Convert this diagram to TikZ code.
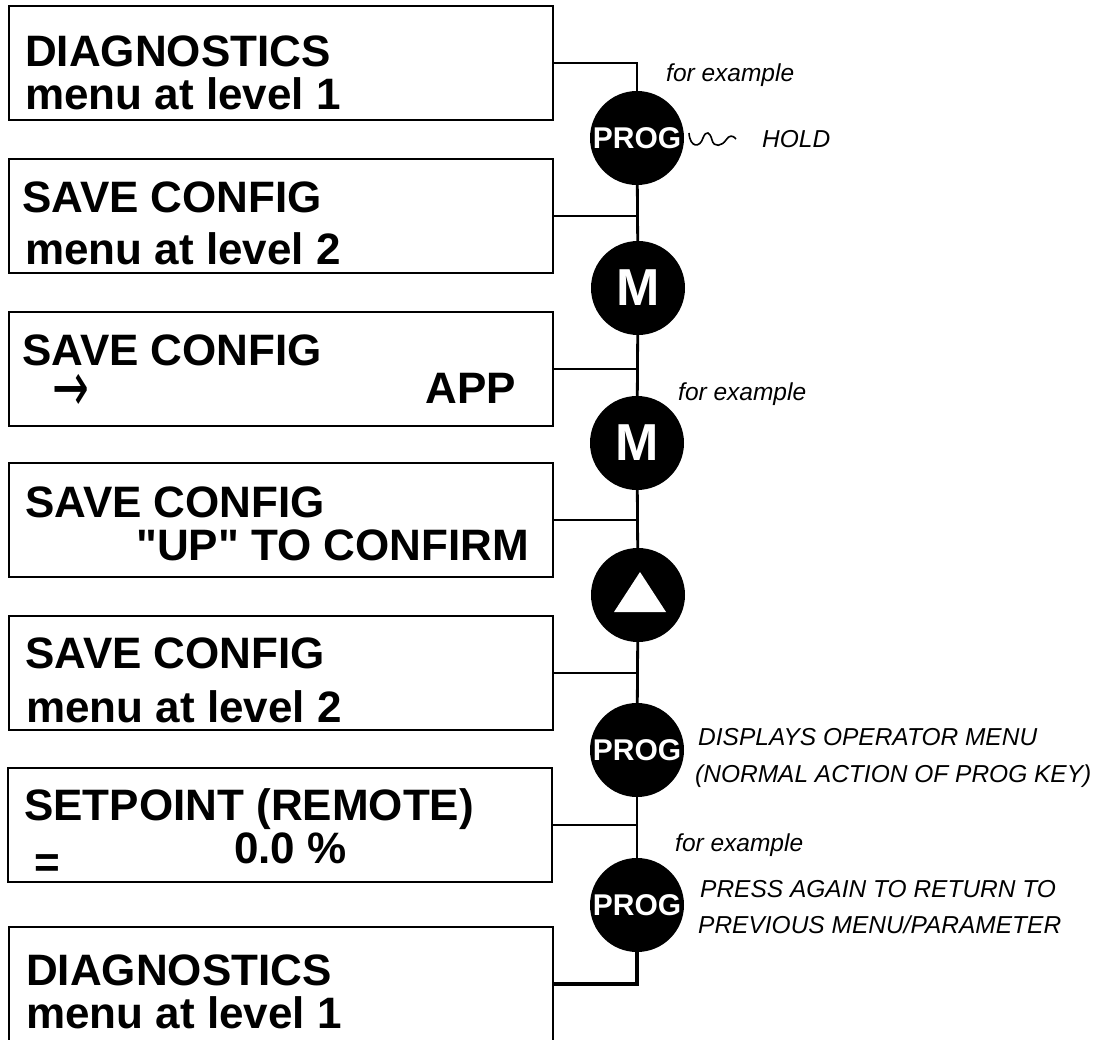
\documentclass[tikz,border=0pt]{standalone}
\usepackage{fontspec}
\setmainfont{Liberation Sans}
\newfontfamily\arrowfont{DejaVu Sans}
\usetikzlibrary{positioning}
\tikzset{
  menubox/.style={draw,rectangle,line width=2.2pt,minimum width=544pt,
    minimum height=114pt,inner sep=0pt,outer sep=0pt,anchor=north west},
  boxtext/.style={anchor=base west,inner sep=0pt,
    font=\fontsize{44}{44}\selectfont\bfseries},
  keycircle/.style={circle,fill=black,minimum size=94pt,inner sep=0pt,
    text=white,font=\fontsize{30}{30}\selectfont\bfseries},
  bigkey/.style={keycircle,font=\fontsize{52}{52}\selectfont\bfseries},
  wire/.style={line width=2.8pt},
  note/.style={anchor=base west,inner sep=0pt,
    font=\fontsize{24.5}{24.5}\selectfont\itshape}
}

\begin{document}
\begin{tikzpicture}[x=1pt,y=-1pt]
\useasboundingbox (0,0) rectangle (1099,1040);

% Display screens, top to bottom
\node[menubox] (b1) at (9,6) {};
\node[menubox] (b2) at (9,159) {};
\node[menubox] (b3) at (9,312) {};
\node[menubox] (b4) at (9,463) {};
\node[menubox] (b5) at (9,616) {};
\node[menubox] (b6) at (8,768) {};
\node[menubox] (b7) at (9,927) {};

% Screen texts
\node[boxtext] (t1a) at (25,67) {DIAGNOSTICS};
\node[boxtext] (t1b) at (25,110) {menu at level 1};
\node[boxtext] (t2a) at (22,213) {SAVE CONFIG};
\node[boxtext] (t2b) at (25,265) {menu at level 2};
\node[boxtext] (t3a) at (22,365) {SAVE CONFIG};
\node[inner sep=0pt,font=\fontsize{44}{44}\selectfont\arrowfont] (t3b) at (71,393)
  {\scalebox{1}[1.6]{→}};
\node[boxtext,anchor=base east] (t3c) at (516,403) {APP};
\node[boxtext] (t4a) at (25,517) {SAVE CONFIG};
\node[boxtext] (t4b) at (136,560) {\textquotedbl UP\textquotedbl{} TO CONFIRM};
\node[boxtext] (t5a) at (25,668) {SAVE CONFIG};
\node[boxtext] (t5b) at (26,722) {menu at level 2};
\node[boxtext] (t6a) at (24,820) {SETPOINT (REMOTE)};
\node[boxtext] (t6b) at (234,863) {0.0 \%};
\node[inner sep=0pt,font=\fontsize{44}{44}\selectfont\bfseries] (t6c) at (47,866) {=};
\node[boxtext] (t7a) at (26,985) {DIAGNOSTICS};
\node[boxtext] (t7b) at (26,1028) {menu at level 1};

% Keys on the right
\node[keycircle] (prog1) at (637,138) {PROG};
\node[bigkey] (m1) at (638,288) {M};
\node[bigkey] (m2) at (637,443) {M};
\node[keycircle] (up) at (638,595) {};
\node[keycircle] (prog2) at (637,750) {PROG};
\node[keycircle] (prog3) at (637,905) {PROG};
\fill[white] (up) ++(2,-23) -- ++(26,40) -- ++(-52,0) -- cycle;

% Key sequence line
\draw[wire] (b1.east) -| (prog1);
\draw[wire] (prog1) -- (m1);
\draw[wire] (m1) -- (m2);
\draw[wire] (m2) -- (up);
\draw[wire] (up) -- (prog2);
\draw[wire] (prog2) -- (prog3);
\draw[line width=3.6pt] (prog3) |- (b7.east);

% Branches to the screens
\draw[wire] (b2.east) -- (b2.east -| prog1);
\draw[wire] (b3.east) -- (b3.east -| prog1);
\draw[wire] (b4.east) -- (b4.east -| prog1);
\draw[wire] (b5.east) -- (b5.east -| prog1);
\draw[wire] (b6.east) -- (b6.east -| prog1);

% Hold mark
\draw[line width=1.6pt] (689,133) .. controls (690,148) and (700,148) .. (703,138)
  .. controls (706,130) and (710,132) .. (712,140)
  .. controls (714,148) and (722,146) .. (726,140)
  .. controls (729,135) and (733,135) .. (736,139);

% Notes
\node[note] (fe1) at (666,82) {for example};
\node[note] (hold) at (762,148) {HOLD};
\node[note] (fe2) at (678,400) {for example};
\node[note] (disp1) at (698,745) {DISPLAYS OPERATOR MENU};
\node[note] (disp2) at (695,782) {(NORMAL ACTION OF PROG KEY)};
\node[note] (fe3) at (675,851) {for example};
\node[note] (press1) at (700,897) {PRESS AGAIN TO RETURN TO};
\node[note] (press2) at (698,933) {PREVIOUS MENU/PARAMETER};

\end{tikzpicture}
\end{document}
